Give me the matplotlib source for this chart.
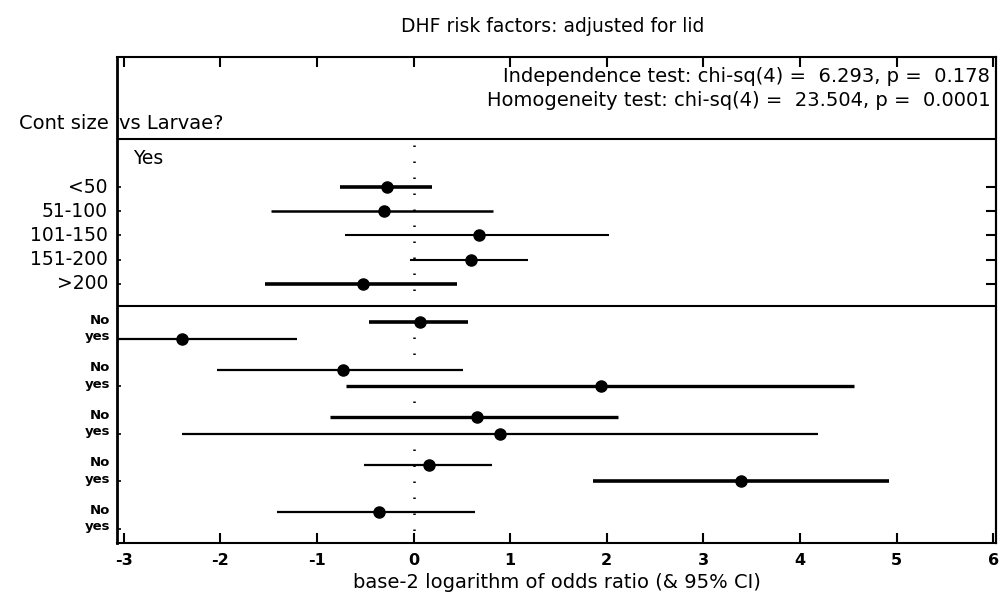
import matplotlib
matplotlib.use("Agg")
import matplotlib.pyplot as plt
import numpy as np

# ---------------- data ----------------
title = "DHF risk factors: adjusted for lid"
stat_lines = ["Independence test: chi-sq(4) =  6.293, p =  0.178",
              "Homogeneity test: chi-sq(4) =  23.504, p =  0.0001"]
xlabel = "base-2 logarithm of odds ratio (& 95% CI)"
xticks = [-3, -2, -1, 0, 1, 2, 3, 4, 5, 6]
header_left = "Cont size"
header_right = "vs Larvae?"
section_label = "Yes"

size_cats = ["<50", "51-100", "101-150", "151-200", ">200"]
yes_est = [-0.27, -0.31, 0.68, 0.59, -0.52]
yes_lo = [-0.76, -1.48, -0.71, -0.04, -1.54]
yes_hi = [0.19, 0.82, 2.02, 1.19, 0.45]

pair_labels = ["No", "yes"]
no_est = [0.07, -0.73, 0.66, 0.16, -0.36]
no_lo = [-0.46, -2.03, -0.87, -0.51, -1.41]
no_hi = [0.56, 0.51, 2.12, 0.81, 0.64]
lyes_est = [-2.40, 1.94, 0.90, 3.39, np.nan]
lyes_lo = [-3.60, -0.70, -2.40, 1.86, np.nan]
lyes_hi = [-1.21, 4.56, 4.19, 4.92, np.nan]

# ---------------- styles / layout ----------------
yes_lw = [2.6, 1.8, 1.5, 1.5, 2.6]
no_lw = [2.6, 1.6, 2.4, 1.6, 1.6]
lyes_lw = [1.6, 2.4, 1.6, 2.6, 1.6]

W, H = 1003, 597
fig = plt.figure(figsize=(W / 100, H / 100), dpi=100)
plt.rcParams["font.family"] = ["DejaVu Sans"]

ax_left, ax_right, ax_top, ax_bot = 117, 996, 57, 543
ax = fig.add_axes([ax_left / W, 1 - ax_bot / H, (ax_right - ax_left) / W,
                   (ax_bot - ax_top) / H])
ax.set_xlim(-3.07, 6.03)
ax.set_ylim(ax_bot, ax_top)   # vertical layout in pixel rows from top

# row positions (layout)
yes_y = [187 + 24.2 * i for i in range(len(size_cats))]
no_y = [322 + 47.6 * k for k in range(len(no_est))]
lyes_y = [y + 16.5 for y in no_y]
sep1, sep2 = 139, 306

for y, e, lo, hi, lw in zip(yes_y, yes_est, yes_lo, yes_hi, yes_lw):
    ax.plot([lo, hi], [y, y], color="black", lw=lw, solid_capstyle="butt")
    ax.plot([e], [y], "o", color="black", ms=8)
for y, e, lo, hi, lw in zip(no_y, no_est, no_lo, no_hi, no_lw):
    ax.plot([lo, hi], [y, y], color="black", lw=lw, solid_capstyle="butt")
    ax.plot([e], [y], "o", color="black", ms=8)
for y, e, lo, hi, lw in zip(lyes_y, lyes_est, lyes_lo, lyes_hi, lyes_lw):
    if np.isnan(e):
        continue
    ax.plot([lo, hi], [y, y], color="black", lw=lw, solid_capstyle="butt")
    ax.plot([e], [y], "o", color="black", ms=8)

# reference line at 0
ax.plot([0, 0], [sep1 + 6, ax_bot], color="black", lw=1.8,
        linestyle=(0, (0.6, 5.8)))

# section separators
ax.axhline(sep1, color="black", lw=1.5)
ax.axhline(sep2, color="black", lw=1.5)

# spines / ticks
ax.spines["left"].set_linewidth(2.0)
for s in ["top", "bottom", "right"]:
    ax.spines[s].set_linewidth(1.5)
ax.set_xticks(xticks)
ax.set_xticklabels([str(t) for t in xticks], fontsize=11.5, fontweight="bold")
ax.tick_params(axis="x", direction="in", top=True, bottom=True, length=7,
               width=1.5, pad=7)
ax.set_yticks(yes_y + lyes_y)
ax.set_yticklabels([])
ax.tick_params(axis="y", direction="in", left=True, right=False, length=3,
               width=1.2)
sec = ax.secondary_yaxis("right")
sec.set_yticks(yes_y)
sec.set_yticklabels([])
sec.tick_params(direction="in", length=7, width=1.5)
sec.spines["right"].set_linewidth(1.5)

# texts
fig.text(553 / W, 1 - 27 / H, title, ha="center", va="center", fontsize=13.5)
ax.text(5.97, 77, stat_lines[0], ha="right", va="center", fontsize=14)
ax.text(5.97, 100, stat_lines[1], ha="right", va="center", fontsize=14)
fig.text(109 / W, 1 - 124 / H, header_left, ha="right", va="center", fontsize=14)
fig.text(119 / W, 1 - 124 / H, header_right, ha="left", va="center", fontsize=14)
ax.text(-2.9, 158, section_label, ha="left", va="center", fontsize=13.5)

for y, lab in zip(yes_y, size_cats):
    fig.text(108 / W, 1 - y / H, lab, ha="right", va="center", fontsize=13.5)
for y1, y2 in zip(no_y, lyes_y):
    fig.text(110 / W, 1 - (y1 - 2) / H, pair_labels[0], ha="right", va="center",
             fontsize=9.5, fontweight="bold")
    fig.text(110 / W, 1 - (y2 - 2) / H, pair_labels[1], ha="right", va="center",
             fontsize=9.5, fontweight="bold")

ax.set_xlabel(xlabel, fontsize=14, labelpad=4)

fig.savefig("out.png", dpi=100)
